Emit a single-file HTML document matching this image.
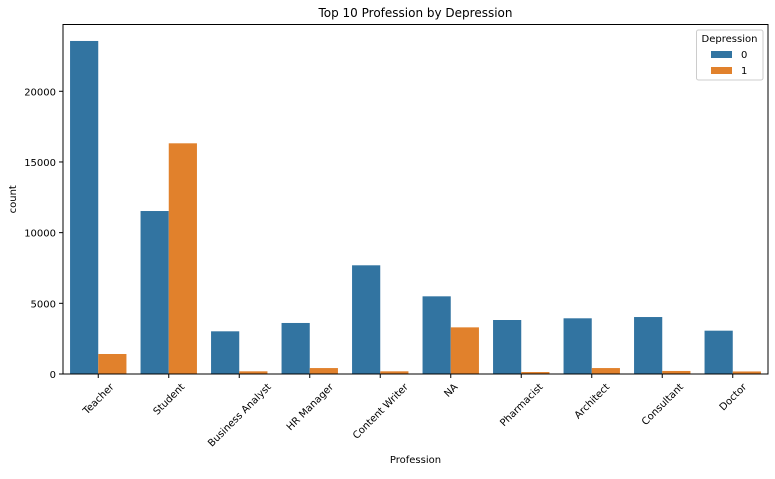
<!DOCTYPE html>
<html><head><meta charset="utf-8"><style>
body{margin:0;background:#fff;}
svg{font-family:"DejaVu Sans","Liberation Sans",sans-serif;}
</style></head><body>
<svg id="chart" width="775" height="474"></svg>
<script>
const categories=["Teacher","Student","Business Analyst","HR Manager","Content Writer","NA","Pharmacist","Architect","Consultant","Doctor"];
const series0=[23560,11530,3020,3610,7690,5495,3820,3940,4030,3065];
const series1=[1415,16320,190,420,190,3300,140,420,215,180];
const yTicks=[0,5000,10000,15000,20000];
const seriesNames=["0","1"];
const colors=["#3274a1","#e1812c"];
const NS="http://www.w3.org/2000/svg";
const svg=document.getElementById("chart");
const L=63,R=768,T=24.5,B=374,YMAX=24725;
const y=v=>B-(v/YMAX)*(B-T);
const band=(R-L)/categories.length;
const x=i=>L+band*i;
function mk(tag,attrs,parent){const e=document.createElementNS(NS,tag);for(const k in attrs)e.setAttribute(k,attrs[k]);(parent||svg).appendChild(e);return e;}
let t=mk("text",{x:(L+R)/2,y:17,"text-anchor":"middle","font-size":12,fill:"#000"});t.textContent="Top 10 Profession by Depression";


[series0,series1].forEach((s,si)=>{s.forEach((v,i)=>{
 const bw=band*0.4;
 const r=mk("rect",{x:x(i)+band*0.1+si*bw,y:y(v),width:bw,height:B-y(v),fill:colors[si]});
 
 
});});
mk("rect",{x:L,y:T,width:R-L,height:B-T,fill:"none",stroke:"#000","stroke-width":1});
yTicks.forEach(v=>{
 mk("line",{x1:L-4,x2:L,y1:y(v),y2:y(v),stroke:"#000"});
 const tt=mk("text",{x:L-7,y:y(v)+4,"text-anchor":"end","font-size":10,fill:"#000"});tt.textContent=v;
 
 
});
categories.forEach((c,i)=>{
 const cx=x(i)+band/2;
 mk("line",{x1:cx,x2:cx,y1:B,y2:B+4,stroke:"#000"});
 const tt=mk("text",{x:cx,y:B,"text-anchor":"middle","font-size":10,fill:"#000"});tt.textContent=c;
 
 
 const w=tt.getComputedTextLength();
 const cy=B+8+w*0.354+3;
 tt.setAttribute("y",cy+3.5);
 tt.setAttribute("transform",`rotate(-45 ${cx} ${cy})`);
});
let xl=mk("text",{x:(L+R)/2,y:463,"text-anchor":"middle","font-size":10,fill:"#000"});xl.textContent="Profession";


let yl=mk("text",{x:16,y:(T+B)/2,"text-anchor":"middle","font-size":10,fill:"#000",transform:`rotate(-90 16 ${(T+B)/2})`});yl.textContent="count";


const lg=mk("g",{});


mk("rect",{x:696.5,y:30,width:66.5,height:50,rx:2,fill:"#fff",stroke:"#ccc"},lg);
let lt=mk("text",{x:729.5,y:42,"text-anchor":"middle","font-size":10,fill:"#000"},lg);lt.textContent="Depression";
seriesNames.forEach((n,k)=>{
 const g=mk("g",{},lg);
 
 
 mk("rect",{x:711,y:51+k*16,width:21,height:7,fill:colors[k]},g);
 const tx=mk("text",{x:741,y:58+k*16,"font-size":10,fill:"#000"},g);tx.textContent=n;
});
</script>
</body></html>
